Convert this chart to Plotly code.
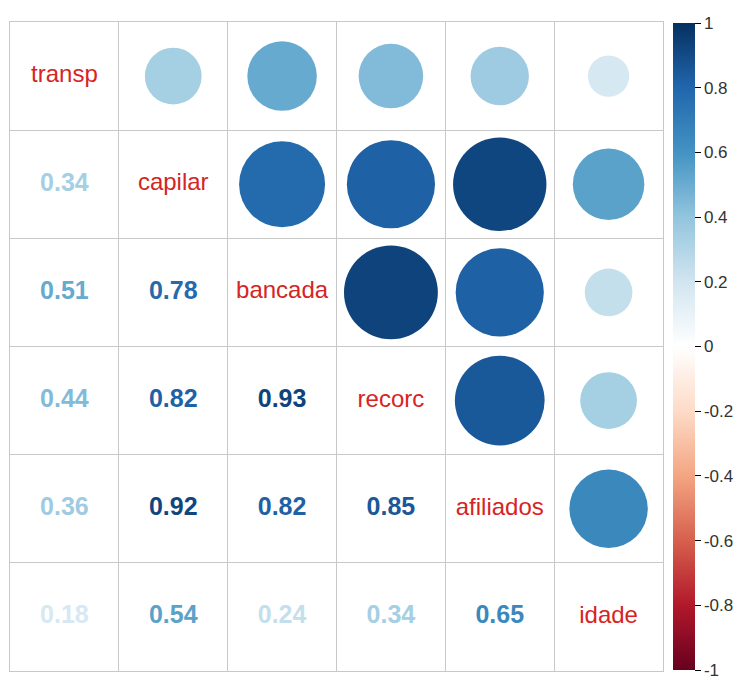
import numpy as np
import plotly.graph_objects as go
from plotly.colors import sample_colorscale

variables = ["transp", "capilar", "bancada", "recorc", "afiliados", "idade"]
corr = [
    [1.00, 0.34, 0.51, 0.44, 0.36, 0.18],
    [0.34, 1.00, 0.78, 0.82, 0.92, 0.54],
    [0.51, 0.78, 1.00, 0.93, 0.82, 0.24],
    [0.44, 0.82, 0.93, 1.00, 0.85, 0.34],
    [0.36, 0.92, 0.82, 0.85, 1.00, 0.65],
    [0.18, 0.54, 0.24, 0.34, 0.65, 1.00],
]
cbar_ticks = [-1, -0.8, -0.6, -0.4, -0.2, 0, 0.2, 0.4, 0.6, 0.8, 1]
cbar_text = ["-1", "-0.8", "-0.6", "-0.4", "-0.2", "0", "0.2", "0.4", "0.6", "0.8", "1"]

palette = ["#67001F", "#B2182B", "#D6604D", "#F4A582", "#FDDBC7", "#FFFFFF",
           "#D1E5F0", "#92C5DE", "#4393C3", "#2166AC", "#053061"]
colorscale = [[i / (len(palette) - 1), c] for i, c in enumerate(palette)]

n = len(variables)
# page body has an 8px default margin; figure sized to fit inside the window
W, H = 726, 672
ml, mr, mt, mb = 2, 71, 14, 9
plot_w = W - ml - mr
plot_h = H - mt - mb
cell_px = min(plot_w, plot_h) / n

cx, cy, cv, csz = [], [], [], []
tx, ty, tt, tc = [], [], [], []
for i in range(n):
    for j in range(n):
        r = corr[i][j]
        if j > i:
            cx.append(j + 1); cy.append(i + 1); cv.append(r)
            csz.append(0.9 * cell_px * np.sqrt(abs(r)))
        elif j < i:
            tx.append(j + 1); ty.append(i + 1); tt.append(f"{r:.2f}")
            tc.append(sample_colorscale(colorscale, [(r + 1) / 2])[0])

fig = go.Figure()
fig.add_trace(go.Scatter(
    x=cx, y=cy, mode="markers",
    marker=dict(size=csz, color=cv, colorscale=colorscale, cmin=-1, cmax=1,
                line=dict(width=0), opacity=1,
                colorbar=dict(
                    x=(665 - ml) / plot_w, xanchor="left", xref="paper",
                    y=0.5, yanchor="middle", len=647 / plot_h, lenmode="fraction",
                    thickness=22, thicknessmode="pixels", xpad=0, ypad=0,
                    outlinewidth=0, ticks="outside", ticklen=6, tickcolor="#000",
                    tickvals=cbar_ticks, ticktext=cbar_text,
                    ticklabeloverflow="allow",
                    tickfont=dict(family="Liberation Sans, Arial", size=17, color="#333"),
                )),
    hoverinfo="skip", showlegend=False,
))
fig.add_trace(go.Scatter(
    x=tx, y=ty, mode="text", text=tt,
    textfont=dict(family="Liberation Sans, Arial", size=25, color=tc, weight="bold"),
    hoverinfo="skip", showlegend=False,
))
fig.add_trace(go.Scatter(
    x=list(range(1, n + 1)), y=list(range(1, n + 1)), mode="text", text=variables,
    textfont=dict(family="Liberation Sans, Arial", size=24, color="#D62424"),
    hoverinfo="skip", showlegend=False,
))

grid_vals = [k + 0.5 for k in range(n + 1)]
axis_style = dict(tickvals=grid_vals, showticklabels=False,
                  showgrid=True, gridcolor="#C8C8C8", gridwidth=1, zeroline=False,
                  showline=True, linecolor="#C8C8C8", linewidth=1, mirror=True, ticks="")
fig.update_xaxes(range=[0.5, n + 0.5], **axis_style)
fig.update_yaxes(range=[n + 0.5, 0.5], **axis_style)
fig.update_layout(width=W, height=H,
                  margin=dict(l=ml, r=mr, t=mt, b=mb, autoexpand=False),
                  plot_bgcolor="white", paper_bgcolor="white")
fig.write_html("out.html")
